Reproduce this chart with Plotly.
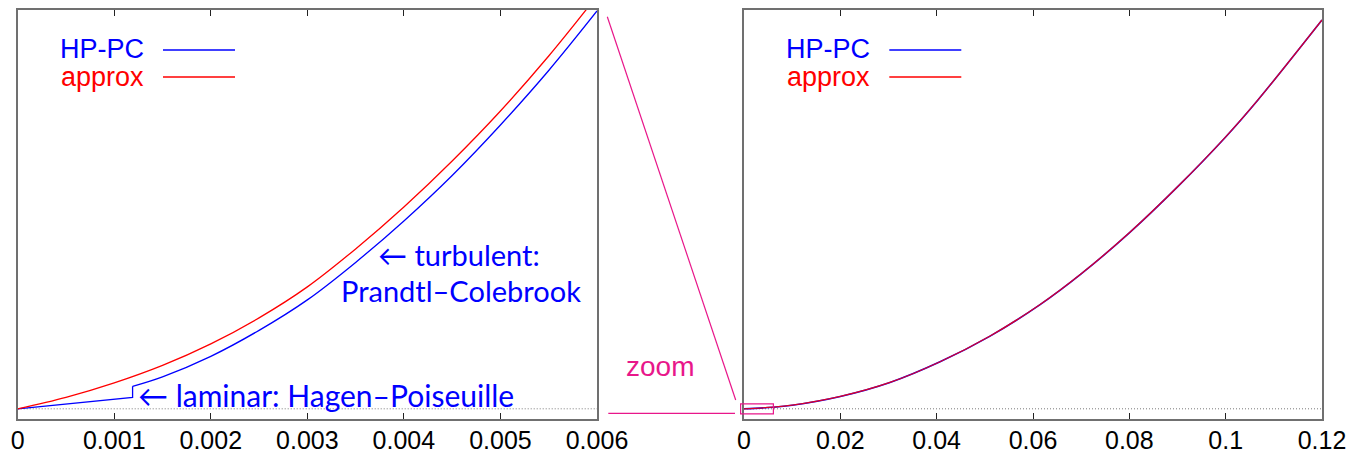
import plotly.graph_objects as go

# ---------------- data ----------------
# left panel: flow 0 .. 0.006, pressure drop in arbitrary units
lam_x = [0.0, 0.00119, 0.00119]
lam_y = [0.0, 11.4, 22.5]
turb_x = [0.00119, 0.0015, 0.002, 0.0025, 0.003, 0.0035, 0.004, 0.0045, 0.005, 0.0055, 0.0060]
turb_y = [22.5, 32.0, 52.5, 78.5, 109.0, 146.5, 188.0, 233.5, 284.0, 338.5, 398.0]
appr_x = [0.0, 0.0005, 0.001, 0.0015, 0.002, 0.0025, 0.003, 0.0035, 0.004, 0.0045, 0.005, 0.0055, 0.006]
appr_y = [0.0, 11.5, 26.0, 43.5, 65.0, 91.0, 122.0, 160.0, 202.0, 248.0, 298.0, 353.0, 413.0]

# right panel: flow 0 .. 0.12
big_x = [0.0, 0.006, 0.01, 0.02, 0.0303, 0.0407, 0.051, 0.0614, 0.07, 0.08, 0.09, 0.1, 0.1067, 0.12]
hp_big_y = [0.0, 1.5, 3.5, 12.3, 26.3, 47.0, 72.5, 104.0, 135.0, 176.0, 222.0, 272.0, 309.0, 389.0]
ap_big_y = [0.0, 1.6, 3.6, 12.4, 26.4, 47.1, 72.6, 104.1, 135.1, 176.1, 222.1, 272.1, 309.1, 389.1]

left_ticks = [0, 0.001, 0.002, 0.003, 0.004, 0.005, 0.006]
left_ticktext = ["0", "0.001", "0.002", "0.003", "0.004", "0.005", "0.006"]
right_ticks = [0, 0.02, 0.04, 0.06, 0.08, 0.1, 0.12]
right_ticktext = ["0", "0.02", "0.04", "0.06", "0.08", "0.1", "0.12"]

# ---------------- layout geometry ----------------
W, H = 1358, 461
def P(x, y):
    return x / W, 1 - y / H

L_DOM = [17.7 / W, 597 / W]
R_DOM = [744 / W, 1322 / W]
Y_DOM = [1 - 419.3 / H, 1 - 10 / H]
Y_RANGE = [-10.5, 399]

BLUE = "#0000ff"
RED = "#ff0000"
MAG = "#e8178a"
TXT_FONT = "Liberation Sans, Arial, sans-serif"
SANS2 = "Lato, Open Sans, sans-serif"

fig = go.Figure()

# left panel
fig.add_trace(go.Scatter(x=lam_x, y=lam_y, mode="lines",
                         line=dict(color=BLUE, width=1.3), xaxis="x", yaxis="y"))
fig.add_trace(go.Scatter(x=turb_x, y=turb_y, mode="lines", line_shape="spline",
                         line=dict(color=BLUE, width=1.3), xaxis="x", yaxis="y"))
fig.add_trace(go.Scatter(x=appr_x, y=appr_y, mode="lines", line_shape="spline",
                         line=dict(color=RED, width=1.3), xaxis="x", yaxis="y"))
# right panel
fig.add_trace(go.Scatter(x=big_x, y=hp_big_y, mode="lines", line_shape="spline",
                         line=dict(color=BLUE, width=1.6), xaxis="x2", yaxis="y2"))
fig.add_trace(go.Scatter(x=big_x, y=ap_big_y, mode="lines", line_shape="spline",
                         line=dict(color=RED, width=1.3), opacity=0.85, xaxis="x2", yaxis="y2"))

axis_common = dict(showline=True, linecolor="#707070", linewidth=2, mirror="ticks",
                   ticks="inside", ticklen=6, tickwidth=1, tickcolor="#222",
                   showgrid=False, zeroline=False, automargin=False,
                   tickfont=dict(family=TXT_FONT, size=25, color="black"))
yaxis_common = dict(showline=True, linecolor="#707070", linewidth=2, mirror=True,
                    ticks="", showticklabels=False, showgrid=False, zeroline=False,
                    automargin=False, range=Y_RANGE, domain=Y_DOM)

fig.update_layout(
    width=W, height=H,
    margin=dict(l=0, r=0, t=0, b=0),
    paper_bgcolor="white", plot_bgcolor="white",
    showlegend=False,
    xaxis=dict(domain=L_DOM, range=[0, 0.006], tickvals=left_ticks, ticktext=left_ticktext,
               anchor="y", **axis_common),
    yaxis=dict(anchor="x", **yaxis_common),
    xaxis2=dict(domain=R_DOM, range=[0, 0.12], tickvals=right_ticks, ticktext=right_ticktext,
                anchor="y2", **axis_common),
    yaxis2=dict(anchor="x2", **yaxis_common),
)
try:
    fig.update_layout(xaxis_ticklabelstandoff=-2, xaxis2_ticklabelstandoff=-2)
except Exception:
    pass

shapes = []
# dotted zero lines
for xr, yr in (("x domain", "y"), ("x2 domain", "y2")):
    shapes.append(dict(type="line", xref=xr, yref=yr, x0=0, x1=1, y0=0, y1=0,
                       line=dict(color="#7a7a7a", width=1, dash="1px,2px"), layer="below"))

# legends (custom: text then line sample)
annotations = []
for off in (0, 726.3):
    for txt, col, ty, ly in (("HP-PC", BLUE, 48.5, 50), ("approx", RED, 77, 77)):
        x, y = P(146 + off, ty)
        annotations.append(dict(text=txt, x=x, y=y, xref="paper", yref="paper",
                                xanchor="right", yanchor="middle", showarrow=False,
                                font=dict(family=TXT_FONT, size=27, color=col)))
        x0, y0 = P(163 + off, ly)
        x1, _ = P(235 + off, ly)
        shapes.append(dict(type="line", xref="paper", yref="paper", x0=x0, x1=x1, y0=y0, y1=y0,
                           line=dict(color=col, width=1.3)))

# curve labels in left panel
for txt, lx, ly, fs in (("\u2190 turbulent:", 376, 254, 29), ("Prandtl\u2013Colebrook", 339, 290, 29),
                        ("\u2190 laminar: Hagen\u2013Poiseuille", 136, 395, 30)):
    x, y = P(lx, ly)
    annotations.append(dict(text=txt, x=x, y=y, xref="paper", yref="paper",
                            xanchor="left", yanchor="middle", showarrow=False,
                            font=dict(family=SANS2, size=fs, color=BLUE)))

# zoom decorations
def right_data_to_paper(xv, yv):
    fx = R_DOM[0] + (xv - 0) / 0.12 * (R_DOM[1] - R_DOM[0])
    fy = Y_DOM[0] + (yv - Y_RANGE[0]) / (Y_RANGE[1] - Y_RANGE[0]) * (Y_DOM[1] - Y_DOM[0])
    return fx, fy

bx0, by0 = right_data_to_paper(-0.0007, -5)
bx1, by1 = right_data_to_paper(0.0061, 5)
shapes.append(dict(type="rect", xref="paper", yref="paper", x0=bx0, x1=bx1, y0=by0, y1=by1,
                   line=dict(color=MAG, width=1.2)))
a0 = P(607.3, 16.7); a1 = P(735.7, 400)
shapes.append(dict(type="line", xref="paper", yref="paper", x0=a0[0], y0=a0[1], x1=a1[0], y1=a1[1],
                   line=dict(color=MAG, width=1.2)))
b0 = P(608.3, 413.3); b1 = P(735, 413.3)
shapes.append(dict(type="line", xref="paper", yref="paper", x0=b0[0], y0=b0[1], x1=b1[0], y1=b1[1],
                   line=dict(color=MAG, width=1.2)))
zx, zy = P(660, 366.7)
annotations.append(dict(text="zoom", x=zx, y=zy, xref="paper", yref="paper",
                        xanchor="center", yanchor="middle", showarrow=False,
                        font=dict(family=TXT_FONT, size=28, color=MAG)))

fig.update_layout(shapes=shapes, annotations=annotations)
fig.write_html("out.html", config={"displayModeBar": False},
               post_script="document.body.style.margin='0px';document.body.style.overflow='hidden';")
